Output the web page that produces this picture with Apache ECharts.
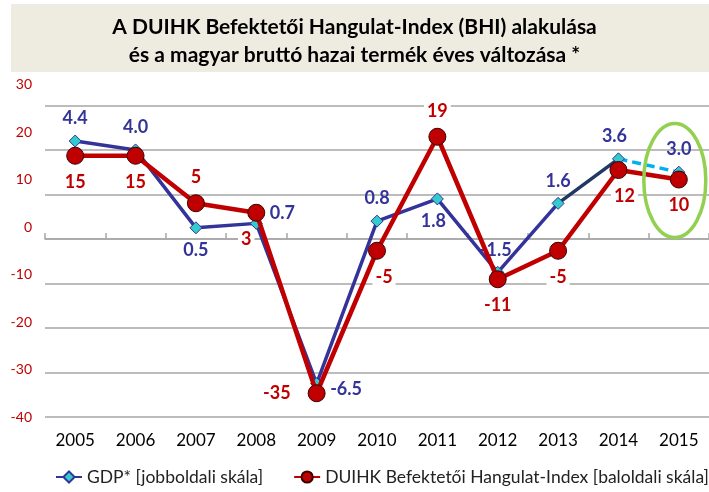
<!DOCTYPE html>
<html>
<head>
<meta charset="utf-8">
<script src="https://cdn.jsdelivr.net/npm/echarts@6/dist/echarts.min.js"></script>
<style>
  html, body { margin: 0; padding: 0; background: #fff; }
  #chart { width: 709px; height: 492px; }
</style>
</head>
<body>
<div id="chart"></div>
<script>
  // adatok
  const years = ['2005', '2006', '2007', '2008', '2009', '2010', '2011', '2012', '2013', '2014', '2015']
  const gdp = [4.4, 4.0, 0.5, 0.7, -6.5, 0.8, 1.8, -1.5, 1.6, 3.6, 3.0]
  const bhi = [15, 15, 5, 3, -35, -5, 19, -11, -5, 12, 10]

  // címkék elhelyezése
  const gdpLabelPos = ['top', 'top', 'bottom', 'right', 'right', 'top', 'bottom', 'top', 'top', 'top', 'top']
  const gdpLabelOffset = [[0, 0], [0, 0], [0, 0], [0, -10], [0, 6], [0, 0], [-4, 0], [-2, 0], [0, 0], [-4, 0], [0, 0]]
  const bhiLabelPos = ['bottom', 'bottom', 'top', 'bottom', 'left', 'bottom', 'top', 'bottom', 'bottom', 'bottom', 'bottom']
  const bhiLabelOffset = [[0, 0], [0, 0], [0, 0], [-10, 0], [-6, 0], [7, 0], [0, 0], [0, 0], [0, 0], [6, 0], [0, 0]]

  const NAVY = '#333399'
  const RED = '#C00000'
  const FONT = 'Lato'

  const chart = echarts.init(document.getElementById('chart'))

  const gdpLabel = i => ({
    show: true,
    position: gdpLabelPos[i],
    offset: gdpLabelOffset[i],
    distance: 7,
    formatter: p => Number(p.value).toFixed(1),
    color: NAVY,
    fontSize: 18,
    fontWeight: 'bold',
    fontFamily: FONT
  })

  // GDP szakaszok: from..to, az első pont jelölő nélkül ha kell
  const segment = (from, to, markFirst) =>
    gdp.map((v, i) => {
      if (i < from || i > to) return null
      if (i === from && !markFirst) return { value: v, symbol: 'none', label: { show: false } }
      return { value: v, label: gdpLabel(i) }
    })

  const diamond = {
    symbol: 'diamond',
    symbolSize: 12,
    itemStyle: { color: '#33CCCC', borderColor: NAVY, borderWidth: 1 }
  }

  const titleBox = { type: 'rect', left: 11, top: 4, z: -10, shape: { width: 698, height: 68 }, style: { fill: '#EEECE1' } }

  const option = {
    animation: false,
    backgroundColor: '#fff',
    textStyle: { fontFamily: FONT },
    title: {
      text: 'A DUIHK Befektetői Hangulat-Index (BHI) alakulása\nés a magyar bruttó hazai termék éves változása *',
      left: 'center',
      top: 8,
      textStyle: { fontSize: 21, fontWeight: 'bold', color: '#000', lineHeight: 28, fontFamily: FONT, align: 'center' }
    },
    graphic: [titleBox],
    legend: {
      bottom: 1,
      left: 50,
      width: 659,
      itemWidth: 26,
      itemHeight: 14,
      itemGap: 30,
      data: ['GDP* [jobboldali skála]', 'DUIHK Befektetői Hangulat-Index [baloldali skála]'],
      textStyle: { fontSize: 17.5, color: '#222', fontFamily: FONT }
    },
    grid: { left: 45, right: -3, top: 84.5, bottom: 75 },
    xAxis: [
      {
        type: 'category',
        data: years,
        position: 'top',
        boundaryGap: true,
        axisLine: { onZero: true, onZeroAxisIndex: 1, lineStyle: { color: '#A6A6A6', width: 1.5 } },
        axisTick: { show: true, length: 6, lineStyle: { color: '#A6A6A6', width: 1.5 } },
        axisLabel: { show: false }
      },
      {
        type: 'category',
        data: years,
        position: 'bottom',
        axisLine: { show: false },
        axisTick: { show: false },
        axisLabel: { fontSize: 17, color: '#000', margin: 15, fontFamily: FONT }
      }
    ],
    yAxis: [
      {
        type: 'value',
        position: 'left',
        min: -40,
        max: 30,
        interval: 10,
        axisLine: { show: false },
        axisTick: { show: false },
        splitLine: { show: false },
        axisLabel: { color: RED, fontSize: 14, margin: 13, fontFamily: FONT }
      },
      {
        type: 'value',
        position: 'right',
        min: -8,
        max: 6.94,
        interval: 2,
        axisLine: { show: false },
        axisTick: { show: false },
        axisLabel: { show: false },
        splitLine: { show: true, showMaxLine: false, lineStyle: { color: '#A6A6A6', width: 1.5 } }
      }
    ],
    series: [
      {
        name: 'GDP* [jobboldali skála]',
        type: 'line',
        yAxisIndex: 1,
        z: 3,
        ...diamond,
        lineStyle: { color: NAVY, width: 3.5 },
        data: segment(0, 8, true)
      },
      {
        name: 'gdp-2014',
        type: 'line',
        yAxisIndex: 1,
        z: 2,
        ...diamond,
        lineStyle: { color: '#1F3864', width: 3.5 },
        data: segment(8, 9, false)
      },
      {
        name: 'gdp-2015',
        type: 'line',
        yAxisIndex: 1,
        z: 2,
        ...diamond,
        lineStyle: { color: '#00B0F0', width: 3.5, type: [9, 5] },
        data: segment(9, 10, false)
      },
      {
        name: 'DUIHK Befektetői Hangulat-Index [baloldali skála]',
        type: 'line',
        yAxisIndex: 0,
        z: 4,
        symbol: 'circle',
        symbolSize: 17,
        itemStyle: { color: RED, borderColor: '#3a0000', borderWidth: 1 },
        lineStyle: { color: RED, width: 4.5 },
        data: bhi.map((v, i) => ({
          value: v,
          label: {
            show: true,
            position: bhiLabelPos[i],
            offset: bhiLabelOffset[i],
            distance: 8,
            color: RED,
            fontSize: 18,
            fontWeight: 'bold',
            fontFamily: FONT,
            backgroundColor: '#fff',
            padding: [0, 3]
          }
        }))
      }
    ]
  }

  chart.setOption(option)

  // zöld ellipszis a 2015-ös becslés körül
  const c = chart.convertToPixel({ xAxisIndex: 0, yAxisIndex: 0 }, [years.length - 1, bhi[bhi.length - 1]])
  chart.setOption({
    graphic: [
      titleBox,
      {
        type: 'ellipse',
        z: 100,
        shape: { cx: c[0] - 4, cy: c[1] + 1, rx: 31, ry: 57 },
        style: { fill: 'none', stroke: '#92D050', lineWidth: 3.5 }
      }
    ]
  })
</script>
</body>
</html>
